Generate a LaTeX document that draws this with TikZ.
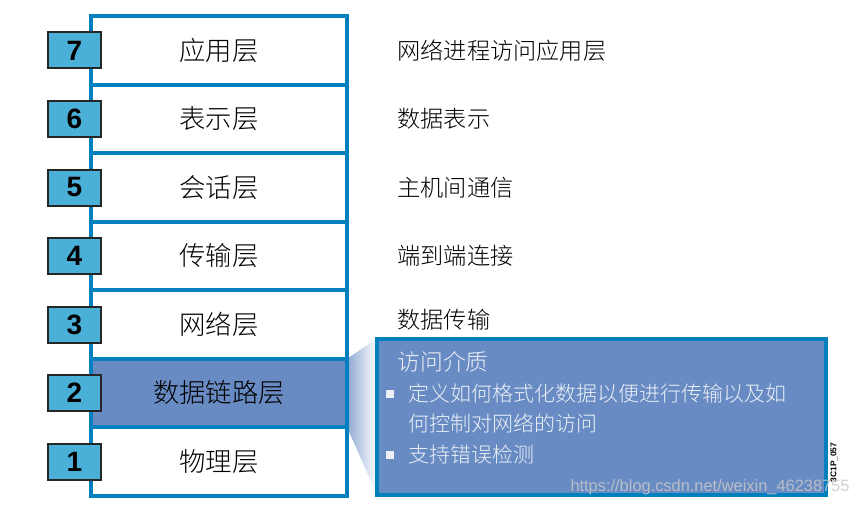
\documentclass[tikz,border=0pt]{standalone}
\usepackage{fontspec}
\setmainfont{Noto Sans CJK SC}[UprightFont=* Light]
\newfontfamily\numfont{Liberation Sans}
\usetikzlibrary{positioning,backgrounds}
\definecolor{osiblue}{RGB}{0,128,190}
\definecolor{numcyan}{RGB}{74,176,216}
\definecolor{linkblue}{RGB}{104,139,196}
\definecolor{palewhite}{RGB}{236,240,246}
\tikzset{
  layer/.style={
    rectangle, draw=osiblue, line width=2pt, fill=white, outer sep=0pt,
    minimum width=128pt, minimum height=34.25pt, font=\fontsize{13.2}{15}\selectfont
  },
  numbox/.style={
    rectangle, draw=black!85, line width=1pt, fill=numcyan, outer sep=0pt,
    minimum width=26.5pt, minimum height=18pt, font=\numfont\bfseries\fontsize{14}{16}\selectfont
  },
  desc/.style={inner sep=0pt, anchor=west, font=\fontsize{11.6}{14}\selectfont},
  callout/.style={
    rectangle, draw=osiblue, line width=2pt, fill=linkblue, outer sep=0pt,
    minimum width=224.5pt, minimum height=78pt
  },
  ctext/.style={inner sep=0pt, text=palewhite, align=left, font=\fontsize{10.5}{15}\selectfont},
  cbullet/.style={rectangle, fill=palewhite, inner sep=0pt, minimum size=4pt}
}
\begin{document}
\begin{tikzpicture}[x=0.5pt, y=0.5pt, node distance=0pt]
  \useasboundingbox (0,0) rectangle (856,510);
  % stack of layers
  \node[layer]                          (l7) at (219,459.5) {应用层};
  \node[layer, below=of l7]             (l6) {表示层};
  \node[layer, below=of l6]             (l5) {会话层};
  \node[layer, below=of l5]             (l4) {传输层};
  \node[layer, below=of l4]             (l3) {网络层};
  \node[layer, below=of l3, fill=linkblue] (l2) {数据链路层};
  \node[layer, below=of l2]             (l1) {物理层};
  \foreach \i in {1,...,7}
    \node[numbox] (n\i) at ([xshift=-8.25pt]l\i.west) {\i};
  % descriptions
  \node[desc, right=25pt of l7]             (d7) {网络进程访问应用层};
  \node[desc, right=25pt of l6]             (d6) {数据表示};
  \node[desc, right=25pt of l5]             (d5) {主机间通信};
  \node[desc, right=25pt of l4]             (d4) {端到端连接};
  \node[desc, right=25pt of l3, yshift=2.5pt] (d3) {数据传输};
  % data link callout
  \node[callout, right=15pt of l2, yshift=-11.75pt] (acc) {};
  \begin{scope}[on background layer]
    \shade[left color=linkblue!75, right color=white]
      (l2.north east) -- (acc.north west) -- (acc.south west) -- (l2.south east) -- cycle;
  \end{scope}
  \node[ctext, font=\fontsize{11.4}{14}\selectfont, anchor=west]
    (t0) at ([xshift=10pt,yshift=-11.5pt]acc.north west) {访问介质};
  \node[ctext, anchor=west] (b1) at ([xshift=15.5pt,yshift=-35pt]acc.north west)
    {定义如何格式化数据以便进行传输以及如\\何控制对网络的访问};
  \node[ctext, anchor=west] (b2) at ([xshift=15.5pt,yshift=-58pt]acc.north west) {支持错误检测};
  \node[cbullet] (s1) at ([xshift=6.5pt,yshift=-27.5pt]acc.north west) {};
  \node[cbullet] (s2) at ([xshift=6.5pt,yshift=-58pt]acc.north west) {};
  % marks
  \node[rotate=90, inner sep=0pt, font=\numfont\bfseries\fontsize{4.2}{5}\selectfont]
    (code) at ([xshift=4pt,yshift=16pt]acc.south east) {3C1P\_057};
  \node[inner sep=0pt, text=black!22, opacity=0.85, font=\numfont\fontsize{8.2}{10}\selectfont]
    (wm) at (710,23) {https://blog.csdn.net/weixin\_46238755};
\end{tikzpicture}
\end{document}
